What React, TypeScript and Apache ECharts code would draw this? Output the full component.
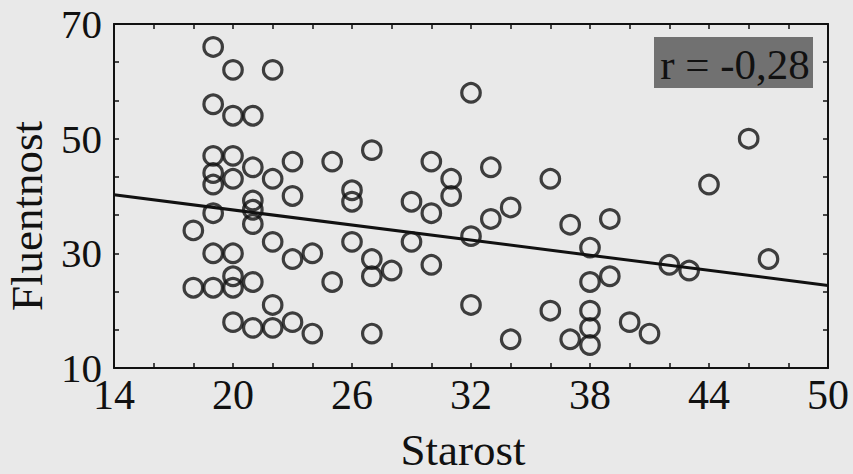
import React, { useEffect, useRef } from 'react';
import * as echarts from 'echarts';

// Age (Starost) of each participant
const ages = [
  18, 18,
  19, 19, 19, 19, 19, 19, 19, 19,
  20, 20, 20, 20, 20, 20, 20, 20,
  21, 21, 21, 21, 21, 21, 21,
  22, 22, 22, 22, 22,
  23, 23, 23, 23,
  24, 24,
  25, 25,
  26, 26, 26,
  27, 27, 27, 27,
  28,
  29, 29,
  30, 30, 30,
  31, 31,
  32, 32, 32,
  33, 33,
  34, 34,
  36, 36,
  37, 37,
  38, 38, 38, 38, 38,
  39, 39,
  40,
  41,
  42,
  43,
  44,
  46,
  47,
];

// Fluency score (Fluentnost) of each participant, same order as ages
const fluency = [
  34, 24,
  66, 56, 47, 44, 42, 37, 30, 24,
  62, 54, 47, 43, 30, 26, 24, 18,
  54, 45, 39.2, 37.6, 35.1, 25, 17,
  62, 43, 32, 21, 17,
  46, 40, 29, 18,
  30, 16,
  46, 25,
  41, 39, 32,
  48, 29, 26, 16,
  27,
  39, 32,
  46, 37, 28,
  43, 40,
  58, 33, 21,
  45, 36,
  38, 15,
  43, 20,
  35, 15,
  31, 25, 20, 17, 14,
  36, 26,
  18,
  16,
  28,
  27,
  42,
  50,
  29,
];

// Regression line end points
const fitLineX = [14, 50];
const fitLineY = [40.2, 24.4];

// Axis labels and tick marks
const xTickLabels = [14, 20, 26, 32, 38, 44, 50];
const xTickMarks = [14, 16, 18, 20, 22, 24, 26, 28, 30, 32, 34, 36, 38, 40, 42, 44, 46, 48, 50];
const yTickLabels = [10, 30, 50, 70];
const yTickMarks = [10, 10 + 20 / 3, 10 + 40 / 3, 30, 30 + 20 / 3, 30 + 40 / 3, 50, 50 + 20 / 3, 50 + 40 / 3, 70];

const xName = 'Starost';
const yName = 'Fluentnost';
const rText = 'r = -0,28';

const serif = '"Liberation Serif", "DejaVu Serif", serif';
const ink = '#111111';
const paper = '#e9e9e9';

export default function App() {
  const ref = useRef<HTMLDivElement>(null);

  useEffect(() => {
    if (!ref.current) return;
    const chart = echarts.init(ref.current, undefined, { renderer: 'svg' });

    const lineStyle = { color: ink, width: 2 };
    const tickStyle = { color: ink, width: 1.5 };

    const option: any = {
      animation: false,
      backgroundColor: paper,
      grid: {
        left: 114,
        right: 25,
        top: 24,
        bottom: 106,
        containLabel: false,
        outerBoundsMode: 'none',
      },
      xAxis: [
        {
          type: 'value',
          min: 14,
          max: 50,
          position: 'bottom',
          axisLine: { show: true, onZero: false, lineStyle },
          axisTick: { show: true, inside: true, length: 5, customValues: xTickMarks, lineStyle: tickStyle },
          axisLabel: {
            show: true,
            customValues: xTickLabels,
            fontFamily: serif,
            fontSize: 42,
            color: ink,
            margin: 6,
          },
          splitLine: { show: false },
        },
        {
          type: 'value',
          min: 14,
          max: 50,
          position: 'top',
          axisLine: { show: true, onZero: false, lineStyle },
          axisTick: { show: true, inside: true, length: 5, customValues: xTickMarks, lineStyle: tickStyle },
          axisLabel: { show: false },
          splitLine: { show: false },
        },
      ],
      yAxis: [
        {
          type: 'value',
          min: 10,
          max: 70,
          position: 'left',
          axisLine: { show: true, onZero: false, lineStyle },
          axisTick: { show: true, inside: true, length: 5, customValues: yTickMarks, lineStyle: tickStyle },
          axisLabel: {
            show: true,
            customValues: yTickLabels,
            fontFamily: serif,
            fontSize: 41,
            color: ink,
            margin: 12,
          },
          splitLine: { show: false },
        },
        {
          type: 'value',
          min: 10,
          max: 70,
          position: 'right',
          axisLine: { show: true, onZero: false, lineStyle },
          axisTick: { show: true, inside: true, length: 5, customValues: yTickMarks, lineStyle: tickStyle },
          axisLabel: { show: false },
          splitLine: { show: false },
        },
      ],
      series: [
        {
          type: 'line',
          xAxisIndex: 0,
          yAxisIndex: 0,
          data: fitLineX.map((x, i) => [x, fitLineY[i]]),
          showSymbol: false,
          symbol: 'none',
          lineStyle: { color: ink, width: 3 },
          z: 2,
          silent: true,
        },
        {
          type: 'scatter',
          xAxisIndex: 0,
          yAxisIndex: 0,
          data: ages.map((a, i) => [a, fluency[i]]),
          symbol: 'circle',
          symbolSize: 18.5,
          itemStyle: { color: 'rgba(0,0,0,0)', borderColor: ink, borderWidth: 3.2 },
          z: 3,
          silent: true,
        },
      ],
      graphic: [
        {
          type: 'rect',
          x: 654,
          y: 37,
          shape: { width: 159, height: 51 },
          style: { fill: '#717171' },
          z: 10,
        },
        {
          type: 'text',
          x: 735,
          y: 64,
          style: {
            text: rText,
            fill: ink,
            font: `43px ${serif}`,
            align: 'center',
            verticalAlign: 'middle',
          },
          z: 11,
        },
        {
          type: 'text',
          x: 27,
          y: 216,
          rotation: Math.PI / 2,
          style: {
            text: yName,
            fill: ink,
            font: `45px ${serif}`,
            align: 'center',
            verticalAlign: 'middle',
          },
          z: 11,
        },
        {
          type: 'text',
          x: 463,
          y: 450,
          style: {
            text: xName,
            fill: ink,
            font: `45px ${serif}`,
            align: 'center',
            verticalAlign: 'middle',
          },
          z: 11,
        },
      ],
    };

    chart.setOption(option);
    return () => chart.dispose();
  }, []);

  return (
    <div
      ref={ref}
      style={{ position: 'absolute', left: 0, top: 0, width: 853, height: 474, background: paper }}
    />
  );
}
